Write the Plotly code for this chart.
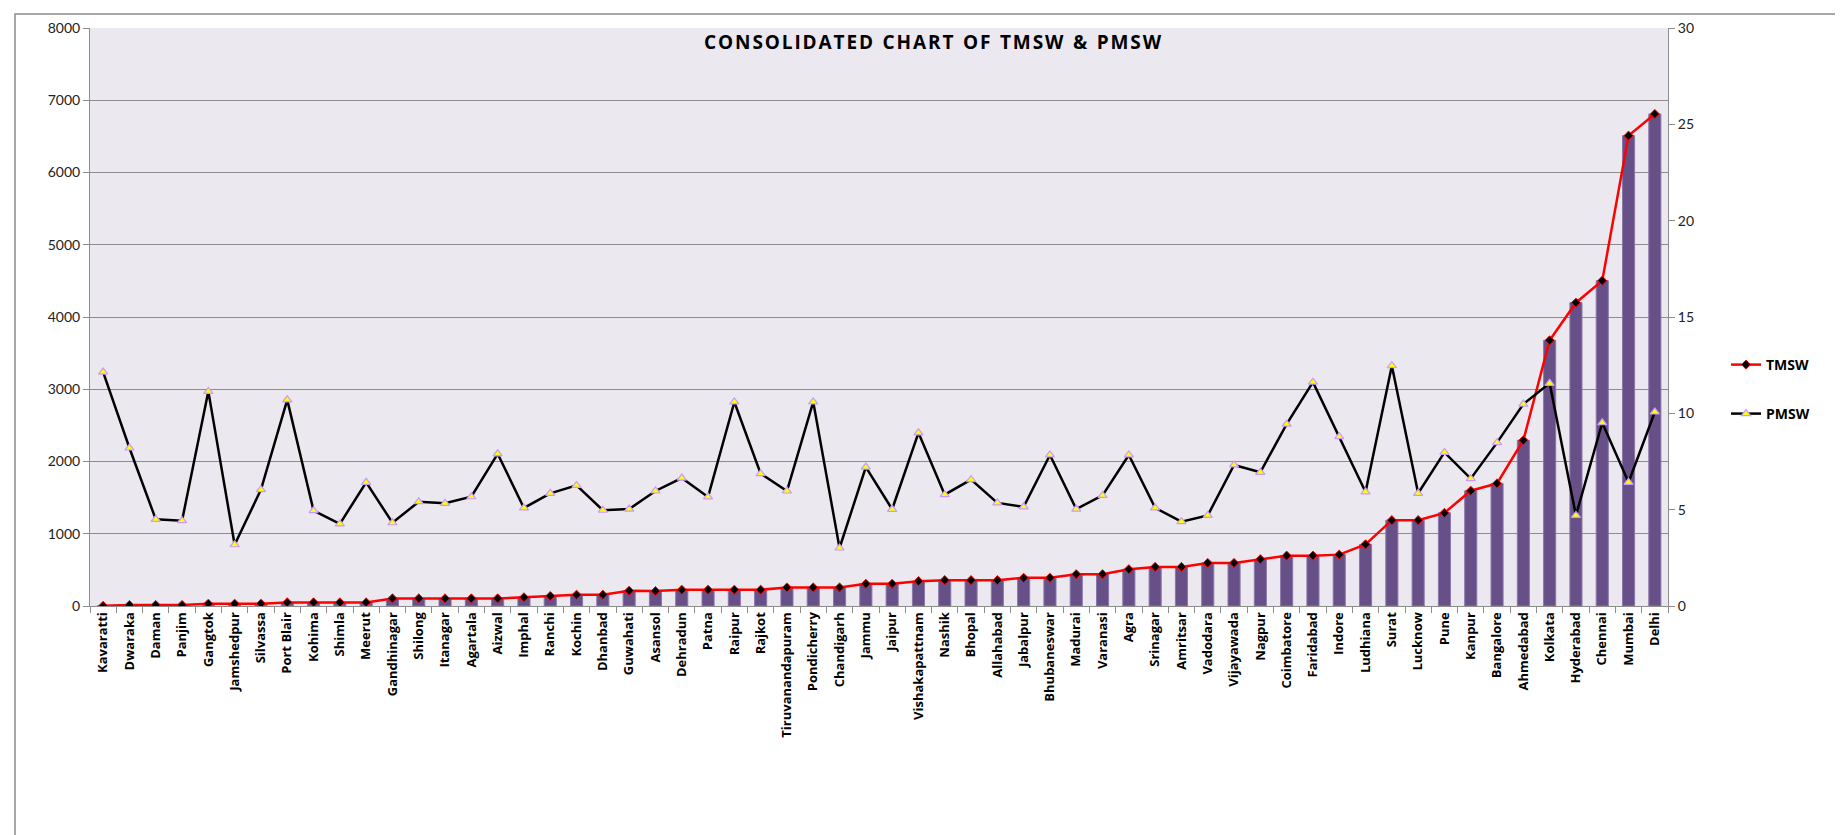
import plotly.graph_objects as go

cities = ["Kavaratti", "Dwaraka", "Daman", "Panjim", "Gangtok", "Jamshedpur", "Silvassa",
          "Port Blair", "Kohima", "Shimla", "Meerut", "Gandhinagar", "Shilong", "Itanagar",
          "Agartala", "Aizwal", "Imphal", "Ranchi", "Kochin", "Dhanbad", "Guwahati", "Asansol",
          "Dehradun", "Patna", "Raipur", "Rajkot", "Tiruvanandapuram", "Pondicherry",
          "Chandigarh", "Jammu", "Jaipur", "Vishakapattnam", "Nashik", "Bhopal", "Allahabad",
          "Jabalpur", "Bhubaneswar", "Madurai", "Varanasi", "Agra", "Srinagar", "Amritsar",
          "Vadodara", "Vijayawada", "Nagpur", "Coimbatore", "Faridabad", "Indore", "Ludhiana",
          "Surat", "Lucknow", "Pune", "Kanpur", "Bangalore", "Ahmedabad", "Kolkata",
          "Hyderabad", "Chennai", "Mumbai", "Delhi"]

tmsw = [2, 14, 14, 14, 32, 32, 32, 50, 50, 50, 50, 105, 105, 105, 105, 105, 120, 138, 156, 156,
        211, 206, 225, 225, 225, 225, 257, 257, 257, 307, 307, 344, 358, 358, 358, 390, 390,
        440, 440, 509, 541, 541, 596, 596, 647, 697, 697, 711, 853, 1188, 1188, 1289, 1596,
        1697, 2294, 3677, 4198, 4503, 6510, 6810]

pmsw = [12.14, 8.2, 4.5, 4.43, 11.14, 3.18, 6.04, 10.7, 4.95, 4.26, 6.42, 4.32, 5.41, 5.33,
        5.67, 7.9, 5.09, 5.85, 6.26, 4.97, 5.03, 5.97, 6.64, 5.66, 10.59, 6.87, 5.97, 10.59,
        3.01, 7.21, 5.02, 8.99, 5.78, 6.56, 5.35, 5.15, 7.84, 5.03, 5.74, 7.84, 5.09, 4.38,
        4.7, 7.32, 6.94, 9.44, 11.62, 8.79, 5.92, 12.47, 5.85, 7.97, 6.61, 8.48, 10.48, 11.56,
        4.7, 9.51, 6.42, 10.07]

left_ticks = [0, 1000, 2000, 3000, 4000, 5000, 6000, 7000, 8000]
right_ticks = [0, 5, 10, 15, 20, 25, 30]

W, H = 1843, 835
L, R, T, B = 82, 1660, 20, 598
pw, ph = R - L, B - T

def px(x):
    return (x - L) / pw

def py(y):
    return (B - y) / ph

grid = "#8c8c8c"
axis_font = dict(family="Lato, Open Sans, sans-serif", size=14, color="#222222")

fig = go.Figure()
fig.add_trace(go.Bar(
    x=cities, y=tmsw, yaxis="y", showlegend=False, name="TMSW bars",
    marker=dict(color="#675088", line=dict(color="#8a78aa", width=1)),
))
fig.add_trace(go.Scatter(
    x=cities, y=tmsw, yaxis="y", mode="lines+markers", name="TMSW", legend="legend",
    line=dict(color="#ff0000", width=2.5),
    marker=dict(symbol="diamond", size=7, color="#000000", line=dict(color="#ff0000", width=1)),
))
fig.add_trace(go.Scatter(
    x=cities, y=pmsw, yaxis="y2", mode="lines+markers", name="PMSW", legend="legend2",
    line=dict(color="#000000", width=2.5),
    marker=dict(symbol="triangle-up", size=8, color="#ffff00", line=dict(color="#c899ff", width=1.2)),
))

legend_common = dict(
    xanchor="left", yanchor="middle", bgcolor="rgba(0,0,0,0)", itemwidth=30,
    font=dict(family="Open Sans, sans-serif", size=14, color="#000000", weight="bold"),
)

fig.update_layout(
    width=W, height=H,
    margin=dict(l=L, r=W - R, t=T, b=H - B),
    paper_bgcolor="#ffffff",
    plot_bgcolor="#ebe9ef",
    bargap=0.54,
    xaxis=dict(
        type="category", showgrid=False, showline=True, linecolor=grid, linewidth=1,
        ticks="outside", tickson="boundaries", ticklen=6, tickcolor=grid,
        tickangle=-90,
        tickfont=dict(family="Open Sans, sans-serif", size=13, color="#000000", weight="bold"),
        range=[-0.5, len(cities) - 0.5],
    ),
    yaxis=dict(
        range=[0, 8000], tickvals=left_ticks, showgrid=True, gridcolor=grid, gridwidth=1,
        showline=True, linecolor=grid, linewidth=1, ticks="outside", ticklen=6, tickcolor=grid,
        tickfont=axis_font, zeroline=False,
    ),
    yaxis2=dict(
        range=[0, 30], tickvals=right_ticks, overlaying="y", side="right", showgrid=False,
        showline=True, linecolor=grid, linewidth=1, ticks="outside", ticklen=6, tickcolor=grid,
        tickfont=axis_font, zeroline=False,
    ),
    legend=dict(x=px(1718), y=py(357), **legend_common),
    legend2=dict(x=px(1718), y=py(406), **legend_common),
    annotations=[dict(
        text="C O N S O L I D A T E D  C H A R T  O F  T M S W  &  P M S W".replace("  ", "\u2002").replace(" ", "\u200a"),
        xref="paper", yref="paper", x=px(925), y=py(34), xanchor="center", yanchor="middle",
        showarrow=False,
        font=dict(family="Open Sans, sans-serif", size=19, color="#000000", weight="bold"),
    )],
    shapes=[dict(
        type="rect", xref="paper", yref="paper",
        x0=px(7), x1=px(1841), y0=py(850), y1=py(6),
        line=dict(color="#8c8c8c", width=1.5), fillcolor="rgba(0,0,0,0)", layer="below",
    )],
)

fig.write_html("out.html")
